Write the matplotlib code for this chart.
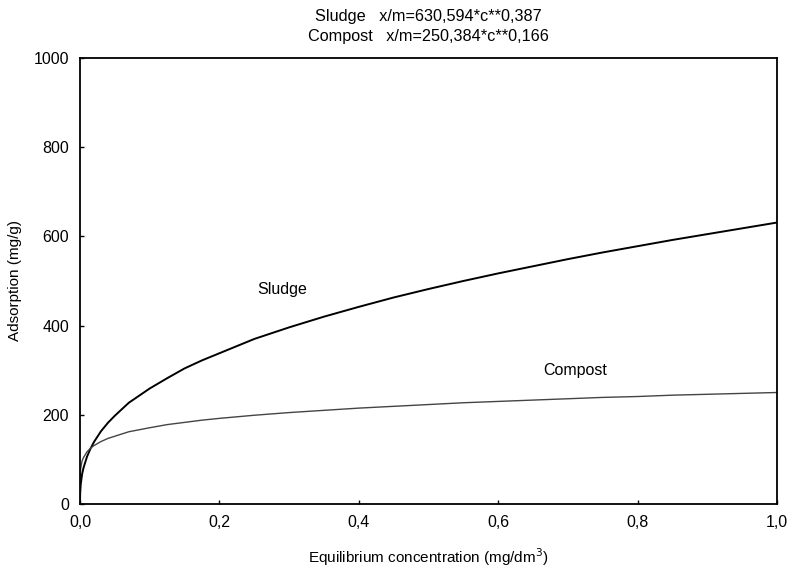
import matplotlib.pyplot as plt
from matplotlib.ticker import FuncFormatter

plt.rcParams['font.family'] = ['Liberation Sans', 'DejaVu Sans']

# Values
conc = [0.0, 0.0002, 0.001, 0.003, 0.005, 0.01, 0.015, 0.02, 0.03, 0.04, 0.05, 0.07,
        0.1, 0.125, 0.15, 0.175, 0.2, 0.25, 0.3, 0.35, 0.4, 0.45, 0.5, 0.55, 0.6,
        0.65, 0.7, 0.75, 0.8, 0.85, 0.9, 0.95, 1.0]
sludge = [0, 23, 44, 67, 81, 106, 124, 139, 163, 182, 198, 227,
          259, 282, 304, 322, 338, 370, 396, 420, 442, 463, 482, 500, 517,
          533, 549, 564, 578, 592, 605, 618, 631]
compost = [0, 61, 80, 97, 104, 117, 125, 131, 140, 147, 152, 162,
           171, 178, 183, 188, 192, 199, 205, 210, 215, 219, 223, 227, 230,
           233, 236, 239, 241, 244, 246, 248, 250]

fig = plt.figure(figsize=(7.93, 5.69), dpi=100)
ax = fig.add_axes([0.1009, 0.1142, 0.879, 0.784])

ax.plot(conc, sludge, color='black', lw=1.4)
ax.plot(conc, compost, color='#444444', lw=1.0)

ax.set_xlim(0, 1)
ax.set_ylim(0, 1000)
ax.set_xticks([0, 0.2, 0.4, 0.6, 0.8, 1.0])
ax.set_yticks([0, 200, 400, 600, 800, 1000])
ax.xaxis.set_major_formatter(FuncFormatter(lambda v, p: f'{v:.1f}'.replace('.', ',')))
ax.tick_params(direction='in', length=3, width=1, labelsize=11.5, pad=8)
for s in ax.spines.values():
    s.set_linewidth(1.3)

ax.text(0.255, 470, 'Sludge', fontsize=11.5)
ax.text(0.665, 290, 'Compost', fontsize=11.5)

ax.set_xlabel('Equilibrium concentration (mg/dm$^3$)', fontsize=11, labelpad=12)
ax.set_ylabel('Adsorption (mg/g)', fontsize=11, labelpad=8)
ax.set_title('Sludge   x/m=630,594*c**0,387\nCompost   x/m=250,384*c**0,166',
             fontsize=11.7, linespacing=1.4, pad=12)

fig.savefig('out.png', dpi=100)
